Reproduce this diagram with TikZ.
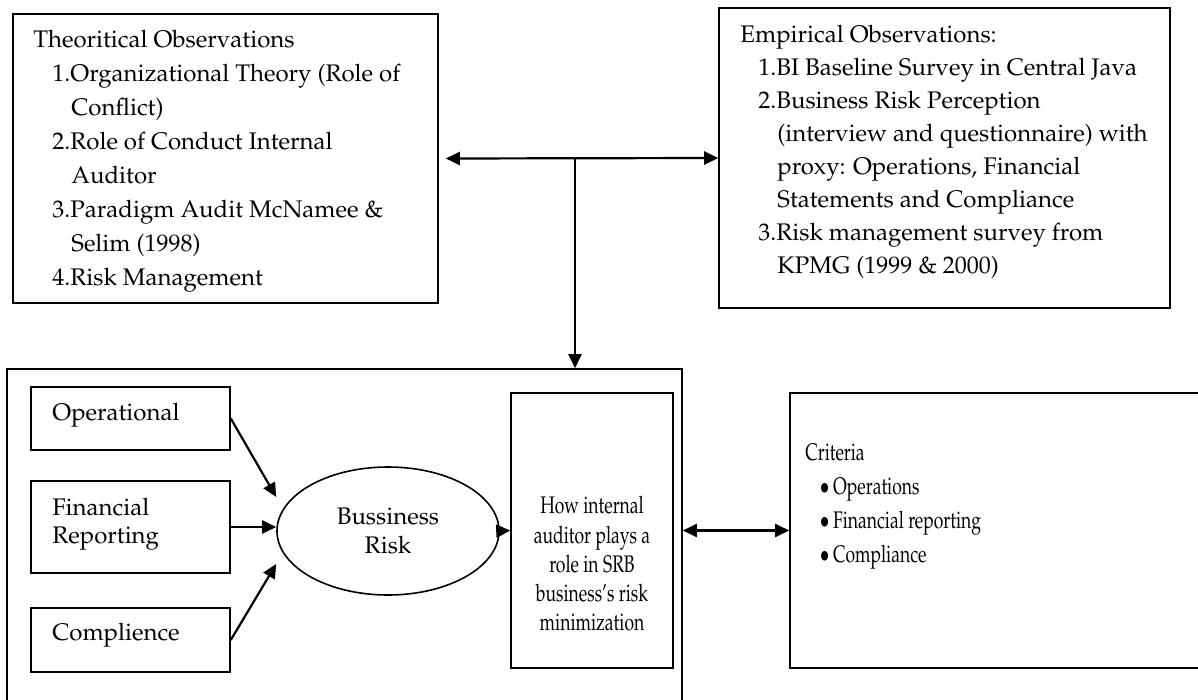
\documentclass[tikz,border=0pt]{standalone}
\usepackage[T1]{fontenc}
\usepackage{mathpazo}
\usepackage{graphicx}
\usetikzlibrary{arrows.meta,fit,shapes.geometric}
% narrow text block (the right hand boxes are set condensed)
\newcommand{\slim}[2]{\scalebox{0.73}[1]{\begin{tabular}[t]{@{}#1@{}}#2\end{tabular}}}

\begin{document}
\begin{tikzpicture}[x=0.5pt, y=-0.5pt, >={Triangle[length=7pt,width=6.5pt]},
  box/.style={draw, line width=0.8pt, inner sep=0pt},
  txt/.style={inner sep=0pt, align=left, font=\fontsize{12}{17}\selectfont},
  link/.style={line width=1.1pt}]
  \useasboundingbox (0,0) rectangle (1198,700);
  % observation boxes
  \node[box, fit={(13,14) (438,303)}] (theo) {};
  \node[box, fit={(719,8) (1170,308)}] (emp) {};
  \node[txt, anchor=north west] (theotxt) at (33,30) {Theoritical Observations\\
    \hspace*{9.5pt}1.Organizational Theory (Role of\\
    \hspace*{19pt}Conflict)\\
    \hspace*{9.5pt}2.Role of Conduct Internal\\
    \hspace*{19pt}Auditor\\
    \hspace*{9.5pt}3.Paradigm Audit McNamee \&\\
    \hspace*{19pt}Selim (1998)\\
    \hspace*{9.5pt}4.Risk Management};
  \node[txt, anchor=north west, font=\fontsize{12}{16.5}\selectfont] (emptxt) at (740,25) {Empirical Observations:\\
    \hspace*{9pt}1.BI Baseline Survey in Central Java\\
    \hspace*{9pt}2.Business Risk Perception\\
    \hspace*{18.5pt}(interview and questionnaire) with\\
    \hspace*{18.5pt}proxy: Operations, Financial\\
    \hspace*{18.5pt}Statements and Compliance\\
    \hspace*{9pt}3.Risk management survey from\\
    \hspace*{18.5pt}KPMG (1999 \& 2000)};
  \coordinate (tee) at (575,158.5);
  % model frame
  \node[box, fit={(7,369) (682,720)}] (frame) {};
  \node[box, fit={(31,387) (230,450)}] (oper) {};
  \node[box, fit={(31,481) (230,573)}] (fin) {};
  \node[box, fit={(31,608) (230,672)}] (comp) {};
  \node[txt, anchor=base west] (opertxt) at (52,420) {Operational};
  \node[txt, anchor=north west, font=\fontsize{12}{14}\selectfont] (fintxt) at (52,498) {Financial\\Reporting};
  \node[txt, anchor=base west] (comptxt) at (52,640) {Complience};
  \node[draw, ellipse, line width=0.8pt, minimum width=111pt, minimum height=64pt, inner sep=0pt,
    align=center, font=\fontsize{12}{14.5}\selectfont] (risk) at (388,531) {Bussiness\\Risk};
  \node[box, fit={(511,393) (673,668)}] (role) {};
  \node[txt, anchor=north, font=\fontsize{12}{14.6}\selectfont] (roletxt) at (592,493)
    {\slim{c}{How internal\\auditor plays a\\role in SRB\\business's risk\\minimization}};
  % criteria
  \node[box, fit={(790,393) (1240,668)}] (crit) {};
  \node[txt, anchor=north west] (crittxt) at (805,436)
    {\slim{l}{Criteria\\
      \hspace*{10pt}\makebox[9pt][l]{$\bullet$}Operations\\
      \hspace*{10pt}\makebox[9pt][l]{$\bullet$}Financial reporting\\
      \hspace*{10pt}\makebox[9pt][l]{$\bullet$}Compliance}};
  % connectors
  \draw[link,<->] ([xshift=3.5pt]theo.east) -- (emp.west);
  \draw[link,->] (tee) -- (tee |- frame.north);
  \draw[link,->] (oper.east) -- ([yshift=17pt]risk.west);
  \draw[link,->] (fin.east) -- (fin.east -| risk.west);
  \draw[link,->] (comp.east) -- ([yshift=-16.5pt]risk.west);
  \draw[link,->] (risk.east) -- (role.west);
  \draw[link,<->] (role.east -| frame.east) -- (crit.west);
\end{tikzpicture}
\end{document}
